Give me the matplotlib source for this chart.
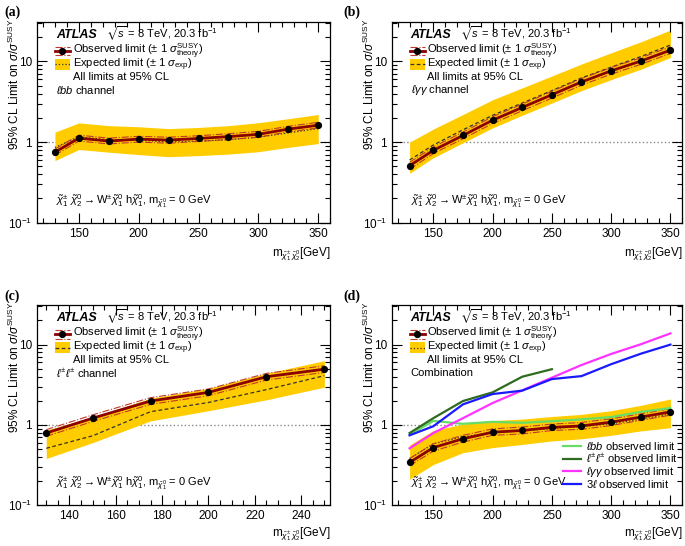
import matplotlib
matplotlib.use("Agg")
import matplotlib.pyplot as plt
from matplotlib.ticker import FixedLocator, MultipleLocator, LogLocator, NullFormatter
from matplotlib.patches import Rectangle

plt.rcParams['font.family'] = ['Liberation Sans', 'DejaVu Sans']
plt.rcParams['mathtext.fontset'] = 'custom'
plt.rcParams['mathtext.rm'] = 'Liberation Sans'
plt.rcParams['mathtext.it'] = 'Liberation Sans:italic'
plt.rcParams['mathtext.bf'] = 'Liberation Sans:bold'
plt.rcParams['mathtext.sf'] = 'Liberation Sans'
plt.rcParams['mathtext.fallback'] = 'stixsans'

# ---- data ----
mass = [130, 150, 175, 200, 225, 250, 275, 300, 325, 350]
mass_ss = [130, 150, 175, 200, 225, 250]

# (a) l bb
a_obs = [0.75, 1.12, 1.03, 1.09, 1.06, 1.11, 1.17, 1.25, 1.45, 1.62]
a_obs_up = [0.82, 1.22, 1.12, 1.18, 1.15, 1.20, 1.27, 1.36, 1.57, 1.76]
a_obs_dn = [0.69, 1.03, 0.95, 1.00, 0.97, 1.02, 1.08, 1.15, 1.34, 1.50]
a_exp = [0.86, 1.16, 1.07, 1.05, 1.01, 1.03, 1.07, 1.15, 1.30, 1.47]
a_exp_up = [1.33, 1.73, 1.60, 1.55, 1.47, 1.52, 1.60, 1.74, 1.95, 2.20]
a_exp_dn = [0.59, 0.81, 0.75, 0.70, 0.66, 0.68, 0.71, 0.76, 0.86, 0.96]

# (b) l gamma gamma
b_obs = [0.51, 0.79, 1.21, 1.87, 2.69, 3.87, 5.57, 7.65, 10.1, 13.8]
b_obs_up = [0.56, 0.87, 1.33, 2.06, 2.96, 4.26, 6.13, 8.42, 11.1, 15.2]
b_obs_dn = [0.46, 0.72, 1.10, 1.70, 2.45, 3.52, 5.07, 6.96, 9.2, 12.6]
b_exp = [0.60, 0.92, 1.42, 2.15, 3.05, 4.35, 6.25, 8.5, 11.5, 16.0]
b_exp_up = [1.00, 1.45, 2.2, 3.35, 4.7, 6.6, 9.3, 12.8, 17.5, 24.5]
b_exp_dn = [0.41, 0.64, 0.98, 1.50, 2.15, 3.05, 4.35, 5.95, 8.0, 11.2]

# (c) same-sign leptons
c_obs = [0.79, 1.21, 1.98, 2.54, 3.98, 4.94]
c_obs_up = [0.87, 1.33, 2.18, 2.80, 4.38, 5.45]
c_obs_dn = [0.72, 1.10, 1.80, 2.31, 3.62, 4.50]
c_exp = [0.51, 0.73, 1.46, 1.90, 2.75, 4.10]
c_exp_up = [0.86, 1.25, 2.15, 2.85, 4.4, 6.3]
c_exp_dn = [0.38, 0.60, 1.12, 1.50, 2.05, 2.95]

# (d) combination
d_obs = [0.34, 0.52, 0.67, 0.81, 0.85, 0.93, 0.97, 1.08, 1.25, 1.45]
d_obs_up = [0.38, 0.58, 0.74, 0.89, 0.94, 1.02, 1.07, 1.19, 1.37, 1.59]
d_obs_dn = [0.31, 0.47, 0.61, 0.74, 0.77, 0.85, 0.88, 0.98, 1.14, 1.32]
d_exp = [0.38, 0.58, 0.71, 0.80, 0.84, 0.90, 0.95, 1.03, 1.17, 1.37]
d_exp_up = [0.56, 0.85, 1.02, 1.13, 1.18, 1.27, 1.35, 1.50, 1.75, 2.10]
d_exp_dn = [0.21, 0.32, 0.45, 0.52, 0.57, 0.63, 0.67, 0.74, 0.84, 0.92]
d_3l = [0.74, 0.96, 1.80, 2.42, 2.67, 3.72, 4.05, 5.7, 7.7, 10.0]

YELLOW = '#ffcc00'
OBS_COL = '#8b0000'
THEO_COL = '#c0392b'
FS = 8.5
FS_LEG = 8

fig = plt.figure(figsize=(6.85, 5.46), dpi=100)
ax_a = fig.add_axes([0.054, 0.592, 0.428, 0.368])
ax_b = fig.add_axes([0.572, 0.592, 0.424, 0.368])
ax_c = fig.add_axes([0.054, 0.075, 0.428, 0.366])
ax_d = fig.add_axes([0.572, 0.075, 0.424, 0.366])


def draw_limits(ax, m, obs, obs_up, obs_dn, exp, exp_up, exp_dn, exp_ls):
    ax.axhline(1, color='#888888', ls=':', lw=1, zorder=0.5)
    ax.fill_between(m, exp_dn, exp_up, color=YELLOW, lw=0, zorder=1)
    ax.plot(m, exp, color='#333333', ls=exp_ls, lw=0.9, zorder=2)
    ax.plot(m, obs_up, color=THEO_COL, ls='-.', lw=0.8, zorder=3)
    ax.plot(m, obs_dn, color=THEO_COL, ls='-.', lw=0.8, zorder=3)
    ax.plot(m, obs, color=OBS_COL, lw=2, zorder=4)
    ax.plot(m, obs, 'o', color='black', ms=4.2, zorder=5)


def style_axes(ax, xlim, xmajor, xminor, xlab_y):
    ax.set_yscale('log')
    ax.set_ylim(0.1, 31)
    ax.set_xlim(*xlim)
    ax.xaxis.set_major_locator(MultipleLocator(xmajor))
    ax.xaxis.set_minor_locator(MultipleLocator(xminor))
    ax.yaxis.set_major_locator(FixedLocator([0.1, 1, 10]))
    ax.yaxis.set_minor_locator(LogLocator(base=10, subs=range(2, 10)))
    ax.yaxis.set_minor_formatter(NullFormatter())
    ax.set_yticklabels([r'10$^{-1}$', '1', '10'])
    ax.tick_params(which='both', direction='in', top=True, right=True, labelsize=FS, width=0.8)
    ax.tick_params(which='major', length=7)
    ax.tick_params(which='minor', length=3.5)
    for s in ax.spines.values():
        s.set_linewidth(0.9)
    ax.set_ylabel(r'95% CL Limit on $\sigma/\sigma^{\mathrm{SUSY}}$', loc='top', fontsize=FS)
    ax.yaxis.set_label_coords(-0.052, 1.02)
    ax.set_xlabel(r'm$_{\tilde{\chi}^{\pm}_{1}\,\tilde{\chi}^{0}_{2}}$[GeV]', loc='right', fontsize=FS)
    ax.xaxis.set_label_coords(1.0, xlab_y)


def header(ax, exp_dotted, channel):
    tr = ax.transAxes
    ax.text(0.065, 0.935, 'ATLAS', transform=tr, fontsize=9, fontweight='bold',
            fontstyle='italic', va='center')
    ax.text(0.235, 0.94, r'$\sqrt{s}$ = 8 TeV, 20.3 fb$^{-1}$', transform=tr,
            fontsize=FS_LEG, va='center')
    # legend handles
    x0, x1 = 0.061, 0.113
    y_obs, y_exp = 0.855, 0.788
    ax.plot([x0, x1], [y_obs + 0.022, y_obs + 0.022], color=THEO_COL, ls='-.', lw=0.8, transform=tr)
    ax.plot([x0, x1], [y_obs - 0.022, y_obs - 0.022], color=THEO_COL, ls='-.', lw=0.8, transform=tr)
    ax.plot([x0, x1], [y_obs, y_obs], color=OBS_COL, lw=2, transform=tr)
    ax.plot([(x0 + x1) / 2], [y_obs], 'o', color='black', ms=4.2, transform=tr)
    ax.add_patch(Rectangle((x0, y_exp - 0.026), x1 - x0, 0.052, color=YELLOW, lw=0, transform=tr))
    ax.plot([x0, x1], [y_exp, y_exp], color='#333333', ls=exp_dotted, lw=0.9, transform=tr)
    ax.text(0.122, y_obs, r'Observed limit ($\pm$ 1 $\sigma^{\mathrm{SUSY}}_{\mathrm{theory}}$)',
            transform=tr, fontsize=FS_LEG, va='center')
    ax.text(0.122, y_exp, r'Expected limit ($\pm$ 1 $\sigma_{\mathrm{exp}}$)',
            transform=tr, fontsize=FS_LEG, va='center')
    ax.text(0.122, 0.726, 'All limits at 95% CL', transform=tr, fontsize=FS_LEG, va='center')
    ax.text(0.065, 0.66, channel, transform=tr, fontsize=FS_LEG, va='center')
    ax.text(0.065, 0.11,
            r'$\tilde{\chi}^{\pm}_{1}\ \tilde{\chi}^{0}_{2} \rightarrow \mathrm{W}^{\pm}\tilde{\chi}^{0}_{1}\ '
            r'\mathrm{h}\tilde{\chi}^{0}_{1}$, m$_{\tilde{\chi}^{0}_{1}}$ = 0 GeV',
            transform=tr, fontsize=FS_LEG, va='center')


draw_limits(ax_a, mass, a_obs, a_obs_up, a_obs_dn, a_exp, a_exp_up, a_exp_dn, ':')
draw_limits(ax_b, mass, b_obs, b_obs_up, b_obs_dn, b_exp, b_exp_up, b_exp_dn, (0, (3, 2)))
draw_limits(ax_c, mass_ss, c_obs, c_obs_up, c_obs_dn, c_exp, c_exp_up, c_exp_dn, (0, (3, 2)))

# combination: individual channels on top of the combined limit
ax_d.axhline(1, color='#888888', ls=':', lw=1, zorder=0.5)
ax_d.fill_between(mass, d_exp_dn, d_exp_up, color=YELLOW, lw=0, zorder=1)
ax_d.plot(mass, d_exp, color='#333333', ls=':', lw=0.9, zorder=2)
ax_d.plot(mass, d_obs_up, color=THEO_COL, ls='-.', lw=0.8, zorder=3)
ax_d.plot(mass, d_obs_dn, color=THEO_COL, ls='-.', lw=0.8, zorder=3)
ax_d.plot(mass, a_obs, color='#66dd66', lw=1.6, zorder=3.5, label=r'$\ell bb$ observed limit')
ax_d.plot(mass_ss, c_obs, color='#2e6b1f', lw=1.6, zorder=3.5,
          label=r'$\ell^{\pm}\ell^{\pm}$ observed limit')
ax_d.plot(mass, b_obs, color='#ff33ff', lw=1.6, zorder=3.5, label=r'$\ell\gamma\gamma$ observed limit')
ax_d.plot(mass, d_3l, color='#1a1aff', lw=1.6, zorder=3.5, label=r'3$\ell$ observed limit')
ax_d.plot(mass, d_obs, color=OBS_COL, lw=2, zorder=4)
ax_d.plot(mass, d_obs, 'o', color='black', ms=4.2, zorder=5)

style_axes(ax_a, (115, 360), 50, 10, -0.115)
style_axes(ax_b, (115, 360), 50, 10, -0.115)
style_axes(ax_c, (126, 252.5), 20, 5, -0.1)
style_axes(ax_d, (115, 360), 50, 10, -0.1)

header(ax_a, ':', r'$\ell bb$ channel')
header(ax_b, (0, (3, 2)), r'$\ell\gamma\gamma$ channel')
header(ax_c, (0, (3, 2)), r'$\ell^{\pm}\ell^{\pm}$ channel')
header(ax_d, ':', 'Combination')

leg = ax_d.legend(loc='lower right', bbox_to_anchor=(0.985, 0.075), frameon=False, fontsize=FS_LEG,
                  handlelength=1.6, handletextpad=0.5, labelspacing=-0.04, borderpad=0.0,
                  borderaxespad=0.0)
leg.set_zorder(6)

for lbl, x, y in [('(a)', 0.006, 0.99), ('(b)', 0.502, 0.99), ('(c)', 0.006, 0.47), ('(d)', 0.502, 0.47)]:
    fig.text(x, y, lbl, family='Liberation Serif', fontweight='bold', fontsize=10, va='top')

fig.savefig('out.png', dpi=100)
